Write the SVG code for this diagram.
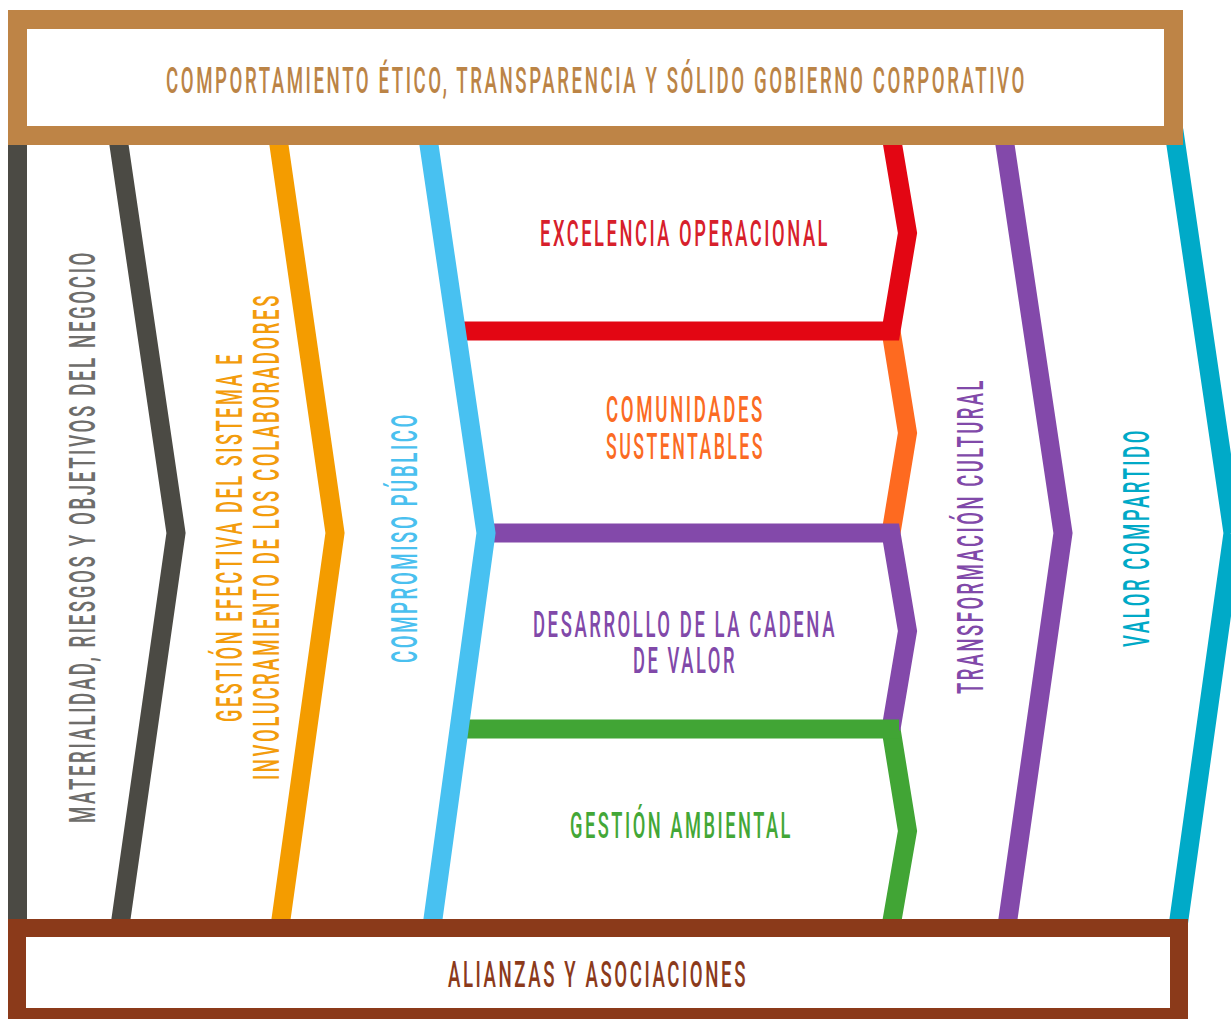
<svg xmlns="http://www.w3.org/2000/svg" width="1231" height="1019" viewBox="0 0 1231 1019">
  <style>
    .ln { fill: none; stroke-width: 19; stroke-linejoin: miter; stroke-miterlimit: 10; stroke-linecap: butt; }
    .t { font-family: Roboto, "Liberation Sans", sans-serif; font-size: 36px; letter-spacing: 5px; text-anchor: middle; font-weight: 500; }
    .frame { fill: #ffffff; }
  </style>
  <rect x="0" y="0" width="1231" height="1019" fill="#ffffff"/>

  <g id="connectors">
    <line class="ln" x1="17.5" y1="130" x2="17.5" y2="930" stroke="#4b4a44"/>
    <polyline class="ln" points="116.8,130 176,533 119.4,930" stroke="#4b4a44"/>
    <polyline class="ln" points="276.8,130 335,533 279.5,930" stroke="#f49c00"/>
    <polyline class="ln" points="891,331 907.5,433 891,533" stroke="#fe6a20"/>
    <polyline class="ln" points="889.3,125 907.5,233 891,331 460,331" stroke="#e30613"/>
    <polyline class="ln" points="891,729 907.5,831 889.5,935" stroke="#41a535"/>
    <polyline class="ln" points="485,533 891,533 907.5,631 891,729" stroke="#8349aa"/>
    <rect x="462" y="719.5" width="437" height="19" fill="#41a535"/>
    <polyline class="ln" points="426.8,130 486,533 431.5,930" stroke="#48c1f1"/>
    <polyline class="ln" points="1002.8,130 1063,533 1006.4,930" stroke="#8349aa"/>
    <polyline class="ln" points="1173.8,130 1233,533 1177.5,930" stroke="#00aac8"/>
  </g>

  <g id="top-box">
    <rect x="17.5" y="19.5" width="1156" height="116" class="frame" stroke="#be8446" stroke-width="19"/>
    <text class="t" x="596.5" y="93" textLength="861" lengthAdjust="spacingAndGlyphs" fill="#bb8446">COMPORTAMIENTO ÉTICO, TRANSPARENCIA Y SÓLIDO GOBIERNO CORPORATIVO</text>
  </g>

  <g id="bottom-box">
    <rect x="17" y="928" width="1162" height="89" class="frame" stroke="#8b3a1a" stroke-width="18"/>
    <text class="t" x="598" y="987" textLength="300" lengthAdjust="spacingAndGlyphs" fill="#8b3a1b">ALIANZAS Y ASOCIACIONES</text>
  </g>

  <g id="materialidad">
    <text class="t" transform="translate(95,536.5) rotate(-90)" x="0" y="0" textLength="573" lengthAdjust="spacingAndGlyphs" fill="#6e6d6b">MATERIALIDAD, RIESGOS Y OBJETIVOS DEL NEGOCIO</text>
  </g>

  <g id="gestion-sistema">
    <text class="t" transform="translate(242,537) rotate(-90)" x="0" y="0" textLength="370" lengthAdjust="spacingAndGlyphs" fill="#f39c0c">GESTIÓN EFECTIVA DEL SISTEMA E</text>
    <text class="t" transform="translate(279,536.5) rotate(-90)" x="0" y="0" textLength="487" lengthAdjust="spacingAndGlyphs" fill="#f39c0c">INVOLUCRAMIENTO DE LOS COLABORADORES</text>
  </g>

  <g id="compromiso-publico">
    <text class="t" transform="translate(417,537.5) rotate(-90)" x="0" y="0" textLength="251" lengthAdjust="spacingAndGlyphs" fill="#4ac0ef">COMPROMISO PÚBLICO</text>
  </g>

  <g id="excelencia-operacional">
    <text class="t" x="685" y="246" textLength="290" lengthAdjust="spacingAndGlyphs" fill="#d7202b">EXCELENCIA OPERACIONAL</text>
  </g>

  <g id="comunidades-sustentables">
    <text class="t" x="685.5" y="422" textLength="159" lengthAdjust="spacingAndGlyphs" fill="#fb6b23">COMUNIDADES</text>
    <text class="t" x="685.5" y="459" textLength="159" lengthAdjust="spacingAndGlyphs" fill="#fb6b23">SUSTENTABLES</text>
  </g>

  <g id="desarrollo-cadena">
    <text class="t" x="685" y="637" textLength="304" lengthAdjust="spacingAndGlyphs" fill="#8149a9">DESARROLLO DE LA CADENA</text>
    <text class="t" x="685" y="673" textLength="104" lengthAdjust="spacingAndGlyphs" fill="#8149a9">DE VALOR</text>
  </g>

  <g id="gestion-ambiental">
    <text class="t" x="681.5" y="838" textLength="223" lengthAdjust="spacingAndGlyphs" fill="#43a737">GESTIÓN AMBIENTAL</text>
  </g>

  <g id="transformacion-cultural">
    <text class="t" transform="translate(983,536) rotate(-90)" x="0" y="0" textLength="316" lengthAdjust="spacingAndGlyphs" fill="#8149a9">TRANSFORMACIÓN CULTURAL</text>
  </g>

  <g id="valor-compartido">
    <text class="t" transform="translate(1149,537.5) rotate(-90)" x="0" y="0" textLength="219" lengthAdjust="spacingAndGlyphs" fill="#00a9c7">VALOR COMPARTIDO</text>
  </g>
</svg>
